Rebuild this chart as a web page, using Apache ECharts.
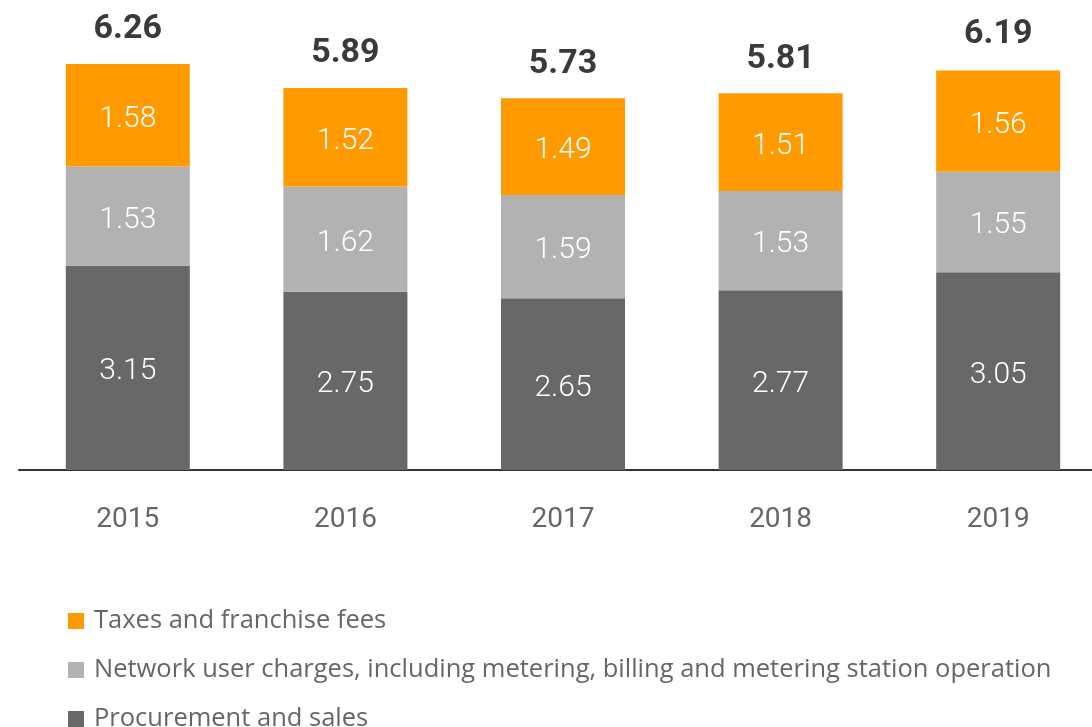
<!DOCTYPE html>
<html>
<head>
<meta charset="utf-8">
<script src="https://cdn.jsdelivr.net/npm/echarts@6/dist/echarts.min.js"></script>
<style>
    html, body { margin: 0; padding: 0; background: #fff; overflow: hidden; }
    /* chart is a bit wider/taller than the window: the last bar's slot runs past the right edge */
    #chart { width: 1107px; height: 760px; }
</style>
</head>
<body>
<div id="chart"></div>
<script>
var years = ["2015", "2016", "2017", "2018", "2019"];
var procurement = [3.15, 2.75, 2.65, 2.77, 3.05];
var network = [1.53, 1.62, 1.59, 1.53, 1.55];
var taxes = [1.58, 1.52, 1.49, 1.51, 1.56];
var totals = [6.26, 5.89, 5.73, 5.81, 6.19];

var nameTaxes = "Taxes and franchise fees";
var nameNetwork = "Network user charges, including metering, billing and metering station operation";
var nameProc = "Procurement and sales";

var fontName = "Roboto";

function innerLabel() {
    return {
        show: true,
        position: "inside",
        offset: [0, 4],
        color: "#fff",
        fontFamily: fontName,
        fontWeight: 300,
        fontSize: 30,
        formatter: function (p) { return p.value.toFixed(2); }
    };
}

var myChart = echarts.init(document.getElementById("chart"));
var option = {
    animation: false,
    grid: {
        left: 19,
        right: 0,
        top: 16,
        bottom: 290
    },
    legend: {
        orient: "vertical",
        left: 68,
        top: 608,
        padding: 0,
        itemWidth: 16,
        itemHeight: 16,
        itemGap: 23,
        icon: "rect",
        data: [nameTaxes, nameNetwork, nameProc],
        textStyle: {
            color: "#666",
            fontFamily: "Open Sans",
            fontSize: 25.5,
            lineHeight: 24,
            padding: [0, 0, 0, 5]
        }
    },
    xAxis: {
        type: "category",
        data: years,
        axisLine: { lineStyle: { color: "#333", width: 2 } },
        axisTick: { show: false },
        axisLabel: {
            color: "#666",
            fontFamily: fontName,
            fontSize: 28,
            margin: 36
        }
    },
    yAxis: {
        type: "value",
        min: 0,
        max: 7,
        show: false,
        splitLine: { show: false }
    },
    series: [{
        name: nameProc,
        type: "bar",
        stack: "cost",
        barWidth: 124,
        barGap: "-100%",
        data: procurement,
        itemStyle: { color: "#686868" },
        label: innerLabel()
    },
    {
        name: nameNetwork,
        type: "bar",
        stack: "cost",
        barWidth: 124,
        data: network,
        itemStyle: { color: "#b2b2b2" },
        label: innerLabel()
    },
    {
        name: nameTaxes,
        type: "bar",
        stack: "cost",
        barWidth: 124,
        data: taxes,
        itemStyle: { color: "#ff9a00" },
        label: innerLabel()
    },
    {
        // invisible bar only carrying the total label
        name: "total",
        type: "bar",
        barWidth: 124,
        barGap: "-100%",
        data: totals,
        silent: true,
        itemStyle: { color: "rgba(0,0,0,0)" },
        label: {
            show: true,
            position: "top",
            distance: 17,
            color: "#3a3a3a",
            fontFamily: fontName,
            fontWeight: "bold",
            fontSize: 34,
            formatter: function (p) { return p.value.toFixed(2); }
        }
    }]
};
myChart.setOption(option);
</script>
</body>
</html>
